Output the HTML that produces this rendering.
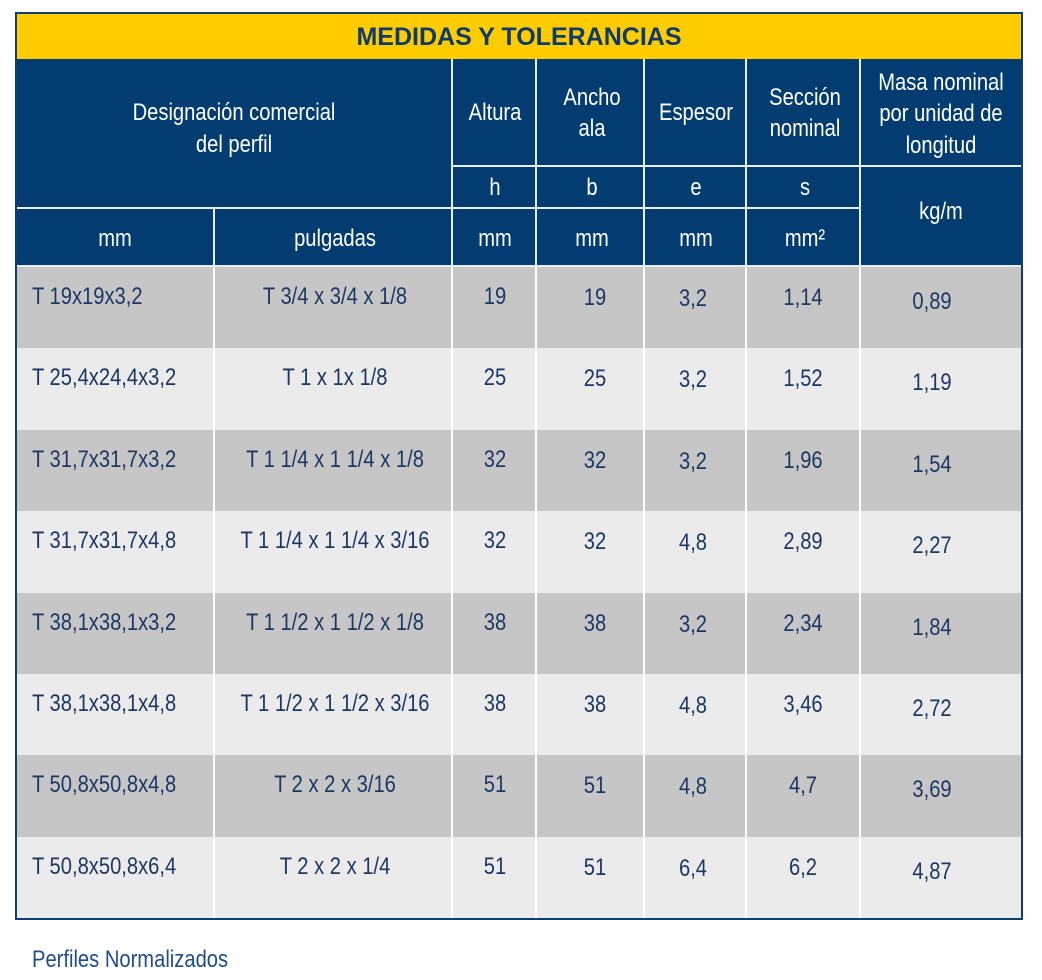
<!DOCTYPE html>
<html><head><meta charset="utf-8"><style>
body{margin:0;width:1042px;height:980px;background:#fff;position:relative;overflow:hidden;font-family:"Liberation Sans",sans-serif}
.a{position:absolute;box-sizing:border-box}
.t{position:absolute;white-space:nowrap;font-size:24px;line-height:24px;transform:translate(-50%,-50%) scaleX(.84);color:#fff}
.l{transform:translate(0,-50%) scaleX(.84);transform-origin:left center}
.d{color:#1c3763}
</style></head><body>
<div id="tbl"></div>
<div class="t l" style="left:32px;top:960px;color:#1f4d8c">Perfiles Normalizados</div>
<script>
const designMm=["T 19x19x3,2","T 25,4x24,4x3,2","T 31,7x31,7x3,2","T 31,7x31,7x4,8","T 38,1x38,1x3,2","T 38,1x38,1x4,8","T 50,8x50,8x4,8","T 50,8x50,8x6,4"];
const designIn=["T 3/4 x 3/4 x 1/8","T 1 x 1x 1/8","T 1 1/4 x 1 1/4 x 1/8","T 1 1/4 x 1 1/4 x 3/16","T 1 1/2 x 1 1/2 x 1/8","T 1 1/2 x 1 1/2 x 3/16","T 2 x 2 x 3/16","T 2 x 2 x 1/4"];
const altura=["19","25","32","32","38","38","51","51"];
const ancho=["19","25","32","32","38","38","51","51"];
const espesor=["3,2","3,2","3,2","4,8","3,2","4,8","4,8","6,4"];
const seccion=["1,14","1,52","1,96","2,89","2,34","3,46","4,7","6,2"];
const masa=["0,89","1,19","1,54","2,27","1,84","2,72","3,69","4,87"];
const X=[16,215,453,537,645,747,861,1021];
const body=document.body;
function box(x,y,w,h,bg,name){const e=document.createElement('div');e.className='a';e.style.cssText=`left:${x}px;top:${y}px;width:${w}px;height:${h}px;background:${bg}`;


body.appendChild(e);return e;}
function txt(s,x,y,name,cls){const e=document.createElement('div');e.className='t '+(cls||'');e.style.left=x+'px';e.style.top=y+'px';e.textContent=s;


body.appendChild(e);return e;}
// outer
box(15,12,1008,908,'#0c3f72','table-border');
box(17,14,1004,45,'#ffcc00','title-bar');
const tt=txt('MEDIDAS Y TOLERANCIAS',519,37,'table-title');tt.style.cssText+=';color:#0f3a6e;font-weight:bold;font-size:25px;transform:translate(-50%,-50%)';
box(17,59,1004,207,'#023c71','header-area');
// header lines
const W='#e8eef5';
box(451,59,2,207,W,'header-line');box(535,59,2,207,W,'header-line');box(643,59,2,207,W,'header-line');box(745,59,2,207,W,'header-line');box(859,59,2,207,W,'header-line');
box(453,165,568,2,W,'header-line');box(17,207,844,2,W,'header-line');box(213,207,2,59,W,'header-line');
box(17,265,1004,2,W,'header-line');
txt('Designación comercial',234,113,'header-designation');txt('del perfil',234,145,'header-designation');
txt('Altura',495,113,'header-altura');txt('Ancho',592,98,'header-ancho');txt('ala',592,129,'header-ancho');
txt('Espesor',696,113,'header-espesor');txt('Sección',805,98,'header-seccion');txt('nominal',805,129,'header-seccion');
txt('Masa nominal',941,83,'header-masa');txt('por unidad de',941,114,'header-masa');txt('longitud',941,146,'header-masa');
txt('h',495,188,'header-h');txt('b',592,188,'header-b');txt('e',696,188,'header-e');txt('s',805,188,'header-s');
txt('kg/m',941,212,'header-kgm');
txt('mm',115,239,'header-mm');txt('pulgadas',335,239,'header-pulgadas');txt('mm',495,239,'header-mm');txt('mm',592,239,'header-mm');txt('mm',696,239,'header-mm');txt('mm²',805,239,'header-mm2');
// rows
const top0=267,rh=81.4;
for(let i=0;i<designMm.length;i++){
 const y=Math.round(top0+i*rh),y2=Math.round(top0+(i+1)*rh);
 box(17,y,1004,Math.min(y2,918)-y,i%2?'#ebebeb':'#c6c6c6','row-bg');
 const c=y+30;
 txt(designMm[i],32,c,'cell-mm','l d');
 txt(designIn[i],335,c,'cell-pulgadas','d');
 txt(altura[i],495,c,'cell-altura','d');
 txt(ancho[i],595,c+1,'cell-ancho','d');
 txt(espesor[i],693,c+2,'cell-espesor','d');
 txt(seccion[i],803,c+1,'cell-seccion','d');
 txt(masa[i],932,c+5,'cell-masa','d');
}
// body vertical lines
for(const x of X.slice(1,7)) box(x-2,267,2,651,'#ffffff','col-line');
</script>
</body></html>
